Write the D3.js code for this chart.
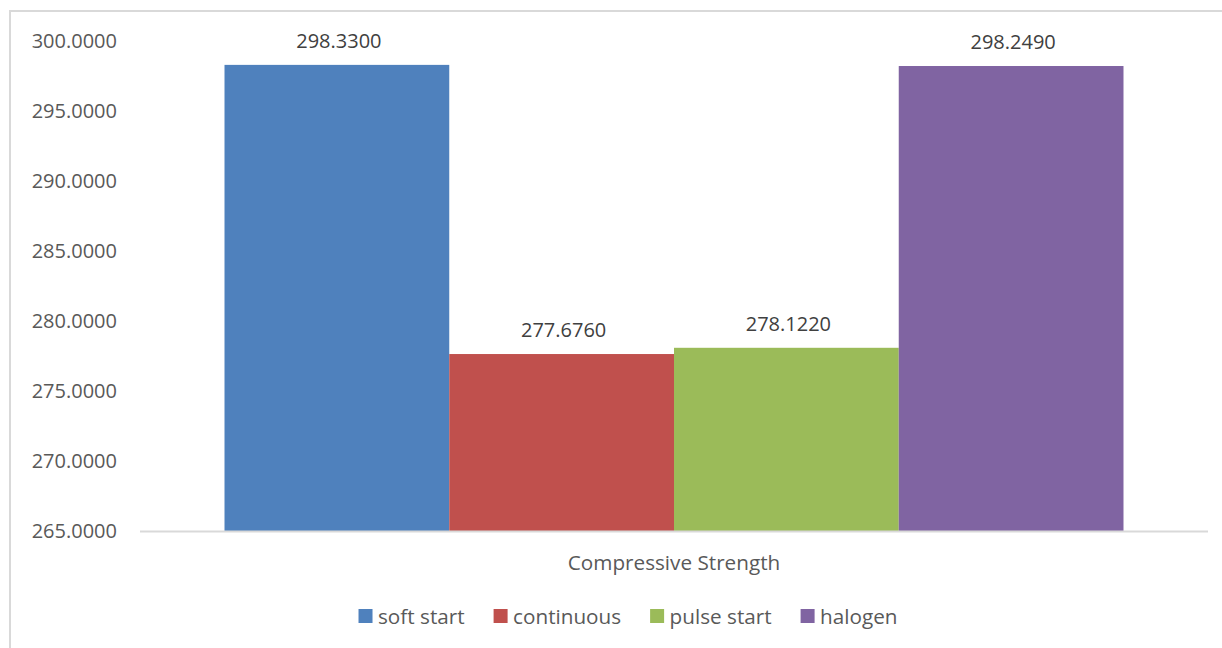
<!DOCTYPE html>
<html lang="en">
<head>
    <meta charset="UTF-8">
    <title>Compressive Strength</title>
    <script src="https://d3js.org/d3.v7.min.js"></script>
    <style>
        body {
            margin: 0;
            background: #ffffff;
        }

        text {
            font-family: "Open Sans", sans-serif;
            fill: #404040;
        }

        .axis text {
            font-size: 20px;
            fill: #595959;
        }

        .label {
            font-size: 20px;
        }

        .legend text, .cat {
            font-size: 20.7px;
            fill: #595959;
        }
    </style>
</head>

<body>
<div id="fig"></div>
<script>
    // chart data
    let categories = ["Compressive Strength"];
    let series = ["soft start", "continuous", "pulse start", "halogen"];
    let values = [298.3300, 277.6760, 278.1220, 298.2490];
    let colors = ["#4F81BD", "#C0504D", "#9BBB59", "#8064A2"];
    let yTicks = [265, 270, 275, 280, 285, 290, 295, 300];

    let w = 1222, h = 648;
    let plot = {left: 140, right: 1208, top: 41.5, bottom: 531.5};

    let svg = d3.select("#fig").append("svg")
        .attr("width", w)
        .attr("height", h);

    // outer border of the chart area
    svg.append("rect")
        .attr("x", 10).attr("y", 11)
        .attr("width", w + 20).attr("height", h + 20)
        .attr("fill", "none")
        .attr("stroke", "#d9d9d9")
        .attr("stroke-width", 2);

    let x0 = d3.scaleBand()
        .domain(categories)
        .range([plot.left, plot.right])
        .paddingInner(0)
        .paddingOuter(0.094);

    let x1 = d3.scaleBand()
        .domain(series)
        .range([0, x0.bandwidth()])
        .padding(0);

    let y = d3.scaleLinear()
        .domain([265, 300])
        .range([plot.bottom, plot.top]);

    // y axis labels (no line, no ticks)
    let yAxis = d3.axisLeft(y)
        .tickValues(yTicks)
        .tickSize(0)
        .tickPadding(0)
        .tickFormat(d3.format(".4f"));

    svg.append("g").attr("class", "axis")
        .attr("transform", `translate(${117},0)`)
        .call(yAxis)
        .call(g => g.select(".domain").remove());

    // bars
    let group = svg.append("g")
        .attr("transform", `translate(${x0(categories[0])},0)`);

    group.selectAll(".bar")
        .data(values)
        .enter()
        .append("rect")
        .attr("class", "bar")
        .attr("x", (d, i) => x1(series[i]))
        .attr("y", d => y(d))
        .attr("width", x1.bandwidth())
        .attr("height", d => y(265) - y(d))
        .attr("fill", (d, i) => colors[i]);

    group.selectAll(".label")
        .data(values)
        .enter()
        .append("text")
        .attr("class", "label")
        .attr("x", (d, i) => x1(series[i]) + x1.bandwidth() / 2 + 2)
        .attr("y", d => y(d) - 17)
        .attr("text-anchor", "middle")
        .text(d => d3.format(".4f")(d));

    // x axis baseline
    svg.append("line")
        .attr("x1", plot.left).attr("x2", plot.right)
        .attr("y1", y(265)).attr("y2", y(265))
        .attr("stroke", "#d9d9d9")
        .attr("stroke-width", 2);

    // category label
    svg.append("text")
        .attr("class", "cat")
        .attr("x", x0(categories[0]) + x0.bandwidth() / 2)
        .attr("y", 570)
        .attr("text-anchor", "middle")
        .text(categories[0]);

    // legend
    let legend = svg.append("g").attr("class", "legend");
    let items = legend.selectAll(".item")
        .data(series)
        .enter()
        .append("g")
        .attr("class", "item");

    items.append("rect")
        .attr("width", 14).attr("height", 14)
        .attr("y", -7)
        .attr("fill", (d, i) => colors[i]);

    items.append("text")
        .attr("x", 19.5)
        .attr("y", 7.5)
        .text(d => d);

    let offset = 0;
    items.each(function () {
        let bw = this.getBBox().width;
        d3.select(this).attr("transform", `translate(${offset},0)`);
        offset += bw + 29;
    });
    let totalW = offset - 29;
    legend.attr("transform", `translate(${628 - totalW / 2},${616})`);
</script>
</body>
</html>
